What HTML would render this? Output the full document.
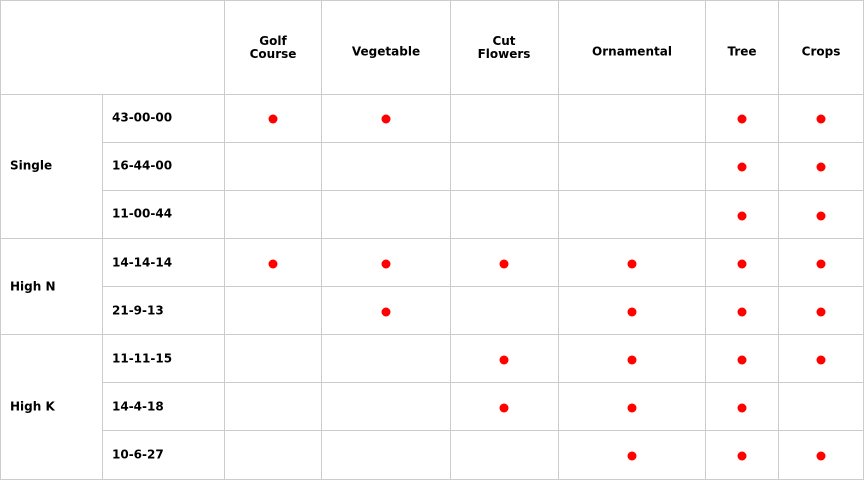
<!DOCTYPE html>
<html><head><style>
body{margin:0;width:864px;height:480px;background:#fff;position:relative;overflow:hidden;font-family:"DejaVu Sans","Liberation Sans",sans-serif;font-weight:bold;font-size:12px;color:#000}
.v{position:absolute;width:1px;background:#ccc}
.h{position:absolute;height:1px;background:#ccc}
.t{position:absolute;line-height:13px;transform:translateY(-50%)}
.c{text-align:center;transform:translate(-50%,-50%)}
.d{position:absolute;width:9px;height:9px;border-radius:50%;background:#f00;transform:translate(-50%,-50%)}
</style></head><body>
<div class="v" style="left:0;top:0;height:480px"></div>
<div class="v" style="left:102px;top:94px;height:386px"></div>
<div class="v" style="left:224px;top:0;height:480px"></div>
<div class="v" style="left:321px;top:0;height:480px"></div>
<div class="v" style="left:450px;top:0;height:480px"></div>
<div class="v" style="left:558px;top:0;height:480px"></div>
<div class="v" style="left:705px;top:0;height:480px"></div>
<div class="v" style="left:778px;top:0;height:480px"></div>
<div class="v" style="left:863px;top:0;height:480px"></div>
<div class="h" style="left:0;top:0;width:864px"></div>
<div class="h" style="left:0;top:94px;width:864px"></div>
<div class="h" style="left:102px;top:142px;width:762px"></div>
<div class="h" style="left:102px;top:190px;width:762px"></div>
<div class="h" style="left:0;top:238px;width:864px"></div>
<div class="h" style="left:102px;top:286px;width:762px"></div>
<div class="h" style="left:0;top:334px;width:864px"></div>
<div class="h" style="left:102px;top:382px;width:762px"></div>
<div class="h" style="left:102px;top:430px;width:762px"></div>
<div class="h" style="left:0;top:479px;width:864px"></div>

<div class="t c" style="left:273px;top:48px">Golf<br>Course</div>
<div class="t c" style="left:386px;top:52px">Vegetable</div>
<div class="t c" style="left:504px;top:48px">Cut<br>Flowers</div>
<div class="t c" style="left:632px;top:52px">Ornamental</div>
<div class="t c" style="left:742px;top:52px">Tree</div>
<div class="t c" style="left:821px;top:52px">Crops</div>

<div class="t" style="left:10px;top:166px">Single</div>
<div class="t" style="left:10px;top:287px">High N</div>
<div class="t" style="left:10px;top:407px">High K</div>

<div class="t" style="left:112px;top:118px">43-00-00</div>
<div class="t" style="left:112px;top:166px">16-44-00</div>
<div class="t" style="left:112px;top:214px">11-00-44</div>
<div class="t" style="left:112px;top:263px">14-14-14</div>
<div class="t" style="left:112px;top:311px">21-9-13</div>
<div class="t" style="left:112px;top:359px">11-11-15</div>
<div class="t" style="left:112px;top:407px">14-4-18</div>
<div class="t" style="left:112px;top:455px">10-6-27</div>

<!-- row 1 -->
<div class="d" style="left:273px;top:119px"></div><div class="d" style="left:386px;top:119px"></div><div class="d" style="left:742px;top:119px"></div><div class="d" style="left:821px;top:119px"></div>
<!-- row 2 -->
<div class="d" style="left:742px;top:167px"></div><div class="d" style="left:821px;top:167px"></div>
<!-- row 3 -->
<div class="d" style="left:742px;top:216px"></div><div class="d" style="left:821px;top:216px"></div>
<!-- row 4 -->
<div class="d" style="left:273px;top:264px"></div><div class="d" style="left:386px;top:264px"></div><div class="d" style="left:504px;top:264px"></div><div class="d" style="left:632px;top:264px"></div><div class="d" style="left:742px;top:264px"></div><div class="d" style="left:821px;top:264px"></div>
<!-- row 5 -->
<div class="d" style="left:386px;top:312px"></div><div class="d" style="left:632px;top:312px"></div><div class="d" style="left:742px;top:312px"></div><div class="d" style="left:821px;top:312px"></div>
<!-- row 6 -->
<div class="d" style="left:504px;top:360px"></div><div class="d" style="left:632px;top:360px"></div><div class="d" style="left:742px;top:360px"></div><div class="d" style="left:821px;top:360px"></div>
<!-- row 7 -->
<div class="d" style="left:504px;top:408px"></div><div class="d" style="left:632px;top:408px"></div><div class="d" style="left:742px;top:408px"></div>
<!-- row 8 -->
<div class="d" style="left:632px;top:456px"></div><div class="d" style="left:742px;top:456px"></div><div class="d" style="left:821px;top:456px"></div>
</body></html>
